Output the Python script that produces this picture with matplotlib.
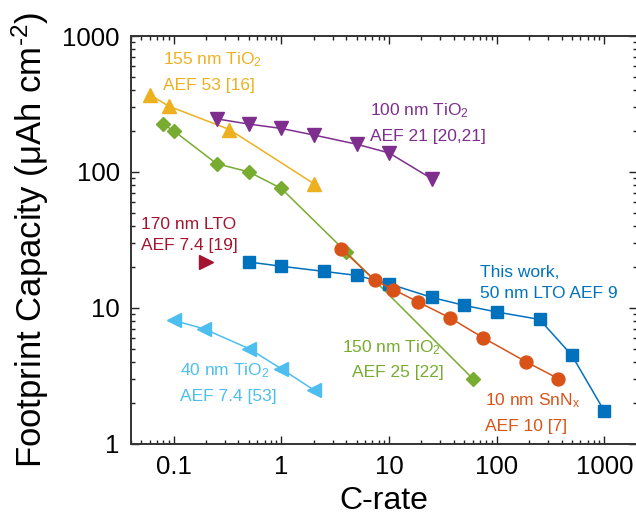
import matplotlib
matplotlib.use("Agg")
import matplotlib.pyplot as plt
from matplotlib.ticker import LogLocator, NullFormatter, FixedLocator, FixedFormatter

plt.rcParams['font.family'] = ['Liberation Sans', 'DejaVu Sans']
plt.rcParams['mathtext.fontset'] = 'custom'
plt.rcParams['mathtext.rm'] = 'Liberation Sans'
plt.rcParams['mathtext.it'] = 'Liberation Sans:italic'
plt.rcParams['mathtext.bf'] = 'Liberation Sans:bold'

# ---- data ----
tio2_155_x = [0.06, 0.09, 0.33, 2]
tio2_155_y = [370, 305, 205, 82]

tio2_100_x = [0.25, 0.5, 1, 2, 5, 10, 25]
tio2_100_y = [246, 225, 209, 187, 160, 138, 89]

tio2_150_x = [0.08, 0.1, 0.25, 0.5, 1, 4, 60]
tio2_150_y = [224, 201, 115, 100, 75.5, 25.7, 3.0]

snnx_x = [3.6, 7.4, 11, 18.7, 37, 75, 187, 375]
snnx_y = [27.2, 15.9, 13.6, 11.0, 8.4, 6.0, 4.0, 3.0]

lto_x = [0.5, 1, 2.5, 5, 10, 25, 50, 100, 250, 500, 1000]
lto_y = [21.7, 20.2, 18.5, 17.3, 15.0, 11.9, 10.4, 9.3, 8.2, 4.45, 1.73]

lto170_x = [0.2]
lto170_y = [21.7]

tio2_40_x = [0.1, 0.19, 0.5, 1, 2]
tio2_40_y = [8.06, 7.0, 5.0, 3.55, 2.48]

x_ticks = [0.1, 1, 10, 100, 1000]
x_ticklabels = ['0.1', '1', '10', '100', '1000']
y_ticks = [1, 10, 100, 1000]
y_ticklabels = ['1', '10', '100', '1000']

c_orange = '#EDB120'
c_purple = '#7E2F8E'
c_green = '#77AC30'
c_red = '#D95319'
c_blue = '#0072BD'
c_dred = '#A2142F'
c_lblue = '#4DBEEE'

fig = plt.figure(figsize=(6.36, 5.16), dpi=100)
ax = fig.add_axes([0.2057, 0.1405, 0.7955, 0.7895])
ax.set_xscale('log')
ax.set_yscale('log')

lw = 1.1
ax.plot(tio2_155_x, tio2_155_y, '-^', color=c_orange, lw=lw, ms=9.8, mec=c_orange)
ax.plot(tio2_100_x, tio2_100_y, '-v', color=c_purple, lw=lw, ms=9.8, mec=c_purple)
ax.plot(tio2_150_x, tio2_150_y, '-D', color=c_green, lw=lw, ms=7.5, mec=c_green)
ax.plot(lto_x, lto_y, '-s', color=c_blue, lw=lw, ms=8, mec=c_blue)
ax.plot(snnx_x, snnx_y, '-o', color=c_red, lw=lw, ms=9.3, mec=c_red)
ax.plot(tio2_40_x, tio2_40_y, '-<', color=c_lblue, lw=lw, ms=9.8, mec=c_lblue)
ax.plot(lto170_x, lto170_y, '>', color=c_dred, ms=9.8, mec=c_dred)

fs = 12.5
def lab(x, y, s, c):
    ax.text(x, y, s, color=c, fontsize=fs, ha='left', va='baseline')

lab(0.0795, 620, r'155 nm TiO$_2$', c_orange)
lab(0.0795, 401, 'AEF 53 [16]', c_orange)
lab(6.66, 259, r'100 nm TiO$_2$', c_purple)
lab(6.66, 169, 'AEF 21 [20,21]', c_purple)
lab(0.0501, 37.8, '170 nm LTO', c_dred)
lab(0.0501, 26.5, 'AEF 7.4 [19]', c_dred)
lab(0.1137, 3.17, r'40 nm TiO$_2$', c_lblue)
lab(0.1137, 2.07, 'AEF 7.4 [53]', c_lblue)
lab(3.63, 4.7, r'150 nm TiO$_2$', c_green)
lab(4.5, 3.08, 'AEF 25 [22]', c_green)
lab(78.2, 1.904, r'10 nm SnN$_\mathrm{x}$', c_red)
lab(78.2, 1.245, 'AEF 10 [7]', c_red)
lab(70.3, 16.8, 'This work,', c_blue)
lab(70.3, 11.85, '50 nm LTO AEF 9', c_blue)

ax.set_xlim(0.04, 2000)
ax.set_ylim(1, 1000)

ax.xaxis.set_major_locator(FixedLocator(x_ticks))
ax.xaxis.set_major_formatter(FixedFormatter(x_ticklabels))
ax.yaxis.set_major_locator(FixedLocator(y_ticks))
ax.yaxis.set_major_formatter(FixedFormatter(y_ticklabels))
ax.xaxis.set_minor_locator(LogLocator(base=10, subs=range(2, 10), numticks=20))
ax.yaxis.set_minor_locator(LogLocator(base=10, subs=range(2, 10), numticks=20))
ax.xaxis.set_minor_formatter(NullFormatter())
ax.yaxis.set_minor_formatter(NullFormatter())

ax.tick_params(which='both', direction='in', top=True, right=True, width=1.0, color='#222222')
ax.tick_params(which='major', length=6, labelsize=18.5, pad=8)
ax.tick_params(which='minor', length=3)
for sp in ax.spines.values():
    sp.set_linewidth(1.4)
    sp.set_color('#333333')

ax.set_xlabel('C-rate', fontsize=23, labelpad=5)
ax.set_ylabel(r'Footprint Capacity (μAh cm$^{\text{-2}}$)', fontsize=25, labelpad=8)

fig.savefig('out.png', dpi=100)
